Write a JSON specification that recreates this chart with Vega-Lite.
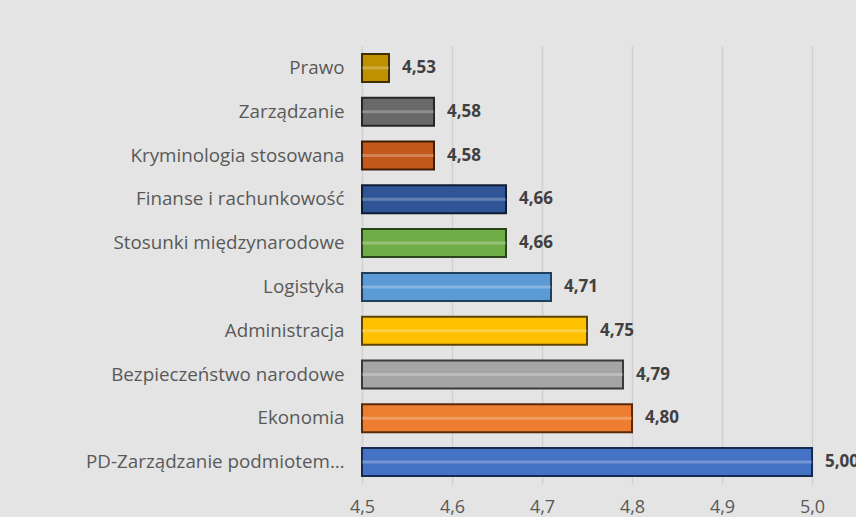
{
  "$schema": "https://vega.github.io/schema/vega-lite/v6.json",
  "width": 450,
  "height": 438,
  "autosize": {"type": "none"},
  "padding": {"left": 362, "top": 46, "right": 44, "bottom": 33},
  "background": "#e4e4e4",
  "config": {
    "locale": {"number": {"decimal": ",", "thousands": " ", "grouping": [3], "currency": ["", " zł"]}},
    "view": {"stroke": null},
    "font": "Open Sans"
  },
  "data": {
    "values": [
      {"kierunek": "Prawo", "ocena": 4.53, "kolor": "#bf9000", "obrys": "#3d2e00"},
      {"kierunek": "Zarządzanie", "ocena": 4.58, "kolor": "#696969", "obrys": "#262626"},
      {"kierunek": "Kryminologia stosowana", "ocena": 4.58, "kolor": "#c0591a", "obrys": "#3f1d06"},
      {"kierunek": "Finanse i rachunkowość", "ocena": 4.66, "kolor": "#2f5597", "obrys": "#0f1c33"},
      {"kierunek": "Stosunki międzynarodowe", "ocena": 4.66, "kolor": "#70ad47", "obrys": "#2a4419"},
      {"kierunek": "Logistyka", "ocena": 4.71, "kolor": "#5b9bd5", "obrys": "#1f3f5c"},
      {"kierunek": "Administracja", "ocena": 4.75, "kolor": "#ffc000", "obrys": "#5c4500"},
      {"kierunek": "Bezpieczeństwo narodowe", "ocena": 4.79, "kolor": "#a5a5a5", "obrys": "#3a3a3a"},
      {"kierunek": "Ekonomia", "ocena": 4.80, "kolor": "#ed7d31", "obrys": "#5a2a08"},
      {"kierunek": "PD-Zarządzanie podmiotem…", "ocena": 5.00, "kolor": "#4472c4", "obrys": "#172a4d"}
    ]
  },
  "encoding": {
    "y": {
      "field": "kierunek",
      "type": "nominal",
      "sort": null,
      "scale": {"paddingInner": 0.36, "paddingOuter": 0.18},
      "axis": {
        "title": null,
        "domain": false,
        "ticks": false,
        "labelPadding": 18,
        "labelFontSize": 18.8,
        "labelColor": "#595959",
        "labelLimit": 400
      }
    }
  },
  "layer": [
    {
      "mark": {"type": "bar", "strokeWidth": 2, "clip": false},
      "encoding": {
        "x": {
          "field": "ocena",
          "type": "quantitative",
          "scale": {"domain": [4.5, 5.0], "zero": false, "clamp": false},
          "axis": {
            "title": null,
            "values": [4.5, 4.6, 4.7, 4.8, 4.9, 5.0],
            "format": ".1f",
            "domain": false,
            "ticks": false,
            "grid": true,
            "gridColor": "#d0d0d0",
            "gridWidth": 1.5,
            "labelPadding": 14,
            "labelFontSize": 18,
            "labelColor": "#595959",
            "labelFlush": false
          }
        },
        "x2": {"datum": 4.5},
        "fill": {"field": "kolor", "type": "nominal", "scale": null},
        "stroke": {"field": "obrys", "type": "nominal", "scale": null}
      }
    },
    {
      "mark": {"type": "bar", "height": 3, "opacity": 0.25, "fill": "white", "clip": false},
      "encoding": {
        "x": {"field": "ocena", "type": "quantitative"},
        "x2": {"datum": 4.5}
      }
    },
    {
      "mark": {"type": "text", "align": "left", "baseline": "middle", "dx": 13, "fontWeight": "bold", "fontSize": 17, "color": "#404040"},
      "encoding": {
        "x": {"field": "ocena", "type": "quantitative"},
        "text": {"field": "ocena", "type": "quantitative", "format": ".2f"}
      }
    }
  ]
}
